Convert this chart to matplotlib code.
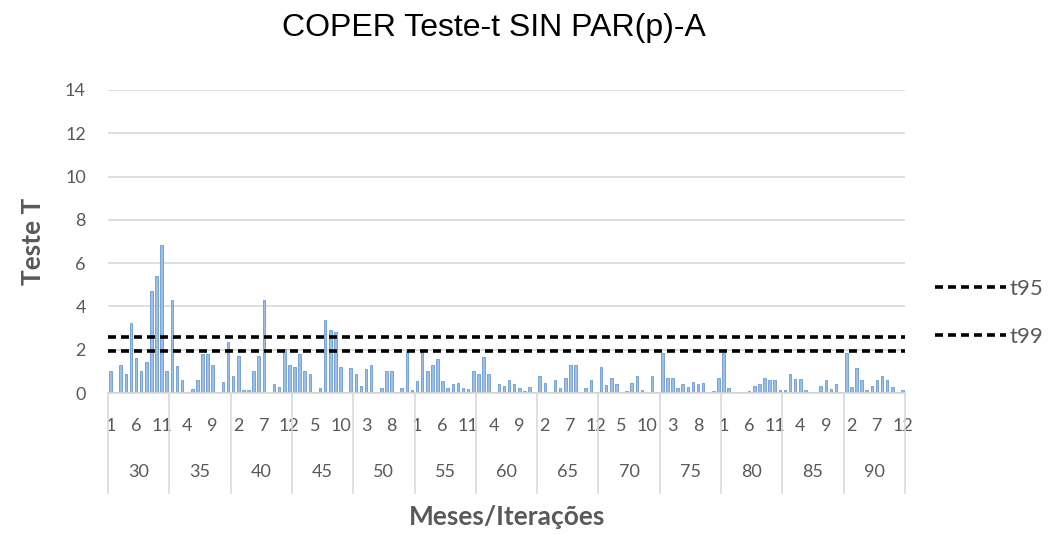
import numpy as np
import matplotlib
matplotlib.use("Agg")
import matplotlib.pyplot as plt
import matplotlib.transforms as mtransforms
from matplotlib.lines import Line2D

# Data: T-test value per month (12 months x 13 iteration groups)
groups = [30, 35, 40, 45, 50, 55, 60, 65, 70, 75, 80, 85, 90]
months = list(range(1, 13))
teste_t = [
    # 30
    1.0, 0.05, 1.3, 0.9, 3.25, 1.6, 1.0, 1.45, 4.7, 5.4, 6.85, 1.0,
    # 35
    4.3, 1.25, 0.6, 0.05, 0.2, 0.6, 1.8, 1.8, 1.3, 0.05, 0.5, 2.35,
    # 40
    0.8, 1.7, 0.15, 0.12, 1.0, 1.7, 4.3, 0.0, 0.4, 0.3, 2.05, 1.3,
    # 45
    1.2, 1.8, 1.0, 0.9, 0.05, 0.23, 3.35, 2.9, 2.8, 1.2, 0.05, 1.15,
    # 50
    0.9, 0.33, 1.1, 1.3, 0.05, 0.23, 1.0, 1.0, 0.05, 0.23, 1.95, 0.15,
    # 55
    0.56, 1.95, 1.0, 1.3, 1.55, 0.56, 0.23, 0.4, 0.48, 0.23, 0.18, 1.0,
    # 60
    0.9, 1.67, 0.9, 0.05, 0.4, 0.33, 0.58, 0.42, 0.23, 0.08, 0.3, 0.05,
    # 65
    0.8, 0.48, 0.05, 0.58, 0.23, 0.7, 1.3, 1.3, 0.05, 0.23, 0.58, 0.05,
    # 70
    1.2, 0.38, 0.68, 0.42, 0.05, 0.08, 0.48, 0.8, 0.15, 0.05, 0.8, 0.05,
    # 75
    1.85, 0.68, 0.68, 0.23, 0.42, 0.3, 0.5, 0.42, 0.48, 0.05, 0.08, 0.68,
    # 80
    1.85, 0.23, 0.05, 0.05, 0.05, 0.08, 0.33, 0.42, 0.68, 0.58, 0.58, 0.15,
    # 85
    0.15, 0.9, 0.64, 0.64, 0.15, 0.05, 0.05, 0.33, 0.58, 0.18, 0.42, 0.05,
    # 90
    1.85, 0.3, 1.15, 0.58, 0.12, 0.33, 0.58, 0.8, 0.58, 0.3, 0.05, 0.12,
]
t95 = 1.96
t99 = 2.58

gray = "#595959"
light = "#d9d9d9"

fig = plt.figure(figsize=(10.64, 5.35), dpi=100)
ax = fig.add_axes([108 / 1064, 1 - 393 / 535, 797 / 1064, 303 / 535])

n = len(teste_t)
x = np.arange(n)
ax.bar(x, teste_t, width=0.5, color="#9dbfe6", edgecolor="#6a9ad4", linewidth=0.6, zorder=2)

l95 = ax.axhline(t95, color="black", linestyle=(0, (2.2, 1.4)), linewidth=2.6, zorder=3, label="t95")
l99 = ax.axhline(t99, color="black", linestyle=(0, (2.2, 1.4)), linewidth=2.6, zorder=3, label="t99")

ax.set_xlim(-0.5, n - 0.5)
ax.set_ylim(0, 14)
ax.set_yticks(range(0, 15, 2))
ax.yaxis.grid(True, color=light, linewidth=1.2, zorder=0)
ax.tick_params(axis="y", length=0, labelsize=13, labelcolor=gray, pad=16)
for s in ["top", "right", "left"]:
    ax.spines[s].set_visible(False)
ax.spines["bottom"].set_color(light)
ax.spines["bottom"].set_linewidth(1.2)

# month labels (every 5th category)
month_labels = [months[i % 12] for i in range(n)]
ticks = list(range(0, n, 5))
ax.set_xticks(ticks)
ax.set_xticklabels([str(month_labels[i]) for i in ticks])
ax.tick_params(axis="x", length=0, labelsize=13, labelcolor=gray, pad=18)

# group labels and separators
trans = mtransforms.blended_transform_factory(ax.transData, ax.transAxes)
for g in range(len(groups) + 1):
    xb = g * 12 - 0.5
    ax.add_line(Line2D([xb, xb], [0, -0.33], transform=trans, color=light,
                       linewidth=1.2, clip_on=False))
for g, lab in enumerate(groups):
    ax.text(g * 12 + 5.5, -0.262, str(lab), transform=trans, ha="center", va="center",
            fontsize=13, color=gray, family="Lato")

for t in ax.get_xticklabels() + ax.get_yticklabels():
    t.set_family("Lato")

ax.set_ylabel("Teste T", fontsize=19, fontweight="bold", color=gray, family="Lato", labelpad=14)
fig.text(507 / 1064, 1 - 517 / 535, "Meses/Iterações", ha="center", va="center",
         fontsize=19, fontweight="bold", color=gray, family="Lato")
fig.text(494 / 1064, 1 - 28 / 535, "COPER Teste-t SIN PAR(p)-A", ha="center", va="center",
         fontsize=23, color="black", family="Liberation Sans")

leg = ax.legend(handles=[l95, l99], loc="upper left", bbox_to_anchor=(915 / 1064, 1 - 259 / 535),
                bbox_transform=fig.transFigure, frameon=False, handlelength=3.2,
                handletextpad=0.15, labelspacing=1.25, prop={"family": "Lato", "size": 16})
for t in leg.get_texts():
    t.set_color(gray)

fig.savefig("out.png", dpi=100, facecolor="white")
